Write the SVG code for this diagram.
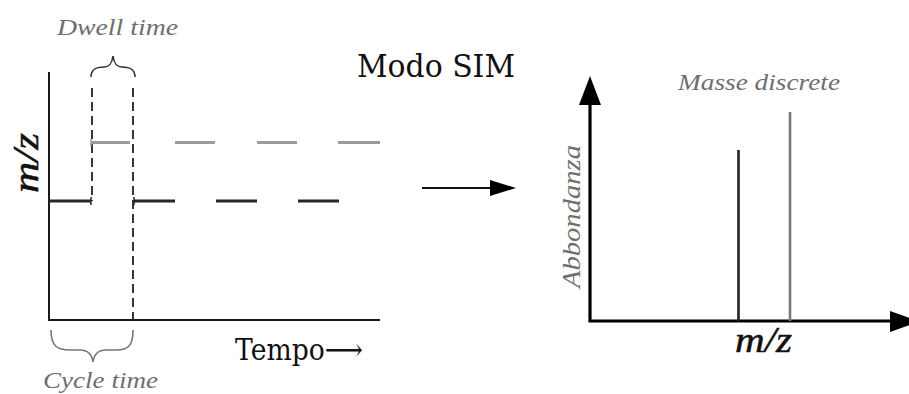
<svg xmlns="http://www.w3.org/2000/svg" width="909" height="394" viewBox="0 0 909 394">
<style>
.ax{stroke:#1a1a1a;stroke-width:2;fill:none}
.ax3{stroke:#000;stroke-width:3.2;fill:none}
.dv{stroke:#222;stroke-width:1.8;stroke-dasharray:9,5;fill:none}
.bl{stroke:#262626;stroke-width:3;fill:none}
.gl{stroke:#9a9a9a;stroke-width:3;fill:none}
.br{stroke:#333;stroke-width:1.6;fill:none}
.brg{stroke:#777;stroke-width:1.6;fill:none}
.gi{font-family:"Liberation Serif",serif;font-style:italic;fill:#6e6e6e}
.tx{font-family:"DejaVu Serif","Liberation Serif",serif;fill:#111}
.mi{font-family:"Liberation Serif",serif;font-style:italic;fill:#111;stroke:#111;stroke-width:0.5}
</style>
<rect width="909" height="394" fill="#fff"/>
<g id="left-chart">
<path class="ax" d="M49,72 V320 H380"/>
<path class="dv" d="M92,88 V201"/>
<path class="dv" d="M133,88 V320"/>
<path class="gl" d="M91,142.5 H130 M175,142.5 H215 M257,142.5 H297 M338,142.5 H380"/>
<path class="gl" d="M91,139 V146" style="stroke-width:1.5"/>
<path class="bl" d="M49,201 H91 M134,201 H175 M216,201 H257 M298,201 H339"/>
<path class="bl" d="M91,197 V205 M134,197 V205" style="stroke-width:1.5"/>
<path class="br" d="M91,77 C91,69 96,67 104,67 C110,67 112,63 113,56 C114,63 116,67 122,67 C130,67 135,69 135,77"/>
<path class="brg" d="M51,330 C51,346 57,350 70,350 L80,350 C88,350 92,355 93,362 C94,355 98,350 106,350 L116,350 C128,350 133,346 133,330"/>
<text class="gi" x="57" y="35" font-size="24" textLength="121" lengthAdjust="spacingAndGlyphs">Dwell time</text>
<text class="gi" x="43" y="388" font-size="24" textLength="115" lengthAdjust="spacingAndGlyphs">Cycle time</text>
<text class="mi" transform="translate(38,193) rotate(-90)" font-size="35" textLength="60" lengthAdjust="spacingAndGlyphs">m/z</text>
<text class="tx" x="235" y="360" font-size="30" textLength="128" lengthAdjust="spacingAndGlyphs">Tempo⟶</text>
</g>
<g id="title">
<text class="tx" x="357" y="77" font-size="32" textLength="158" lengthAdjust="spacingAndGlyphs">Modo SIM</text>
</g>
<g id="connectors">
<path d="M422,188 H492" stroke="#111" stroke-width="2" fill="none"/>
<polygon points="490,180 516,188 490,196" fill="#000"/>
</g>
<g id="right-chart">
<path class="ax3" d="M590,100 V321 H895"/>
<polygon points="590,76 601,105 579,105" fill="#000"/>
<polygon points="890,311 920,321.5 890,332" fill="#000"/>
<path d="M738.5,150 V321" stroke="#222" stroke-width="2.6" fill="none"/>
<path d="M790,112 V321" stroke="#777" stroke-width="2.6" fill="none"/>
<text class="gi" x="678" y="90" font-size="24" textLength="162" lengthAdjust="spacingAndGlyphs">Masse discrete</text>
<text class="gi" transform="translate(580,288) rotate(-90)" font-size="26" textLength="143" lengthAdjust="spacingAndGlyphs">Abbondanza</text>
<text class="mi" x="735" y="352" font-size="35" textLength="57" lengthAdjust="spacingAndGlyphs">m/z</text>
</g>
</svg>
